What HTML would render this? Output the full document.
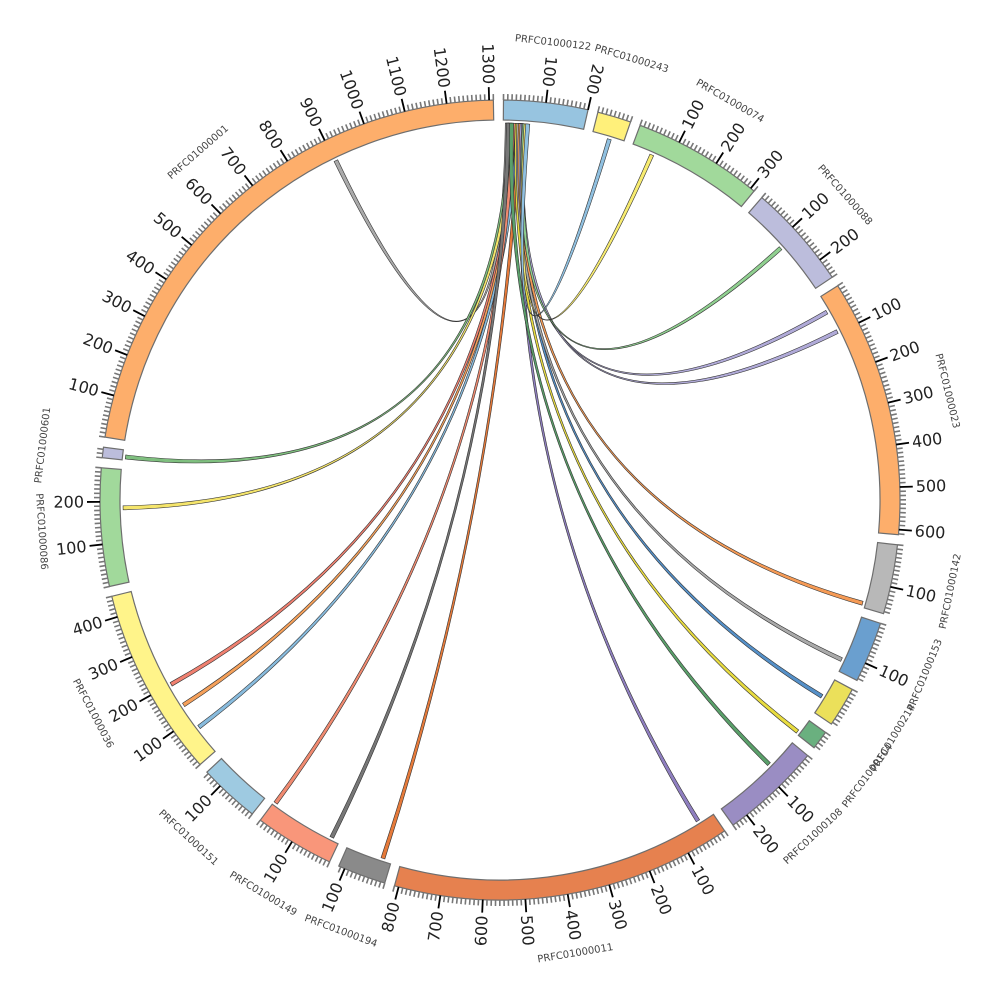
<!DOCTYPE html>
<html><head><meta charset="utf-8">
<style>
html,body{margin:0;padding:0;background:#fff;}
svg{display:block;font-family:"DejaVu Sans","Liberation Sans",sans-serif;}
</style></head>
<body>
<svg id="chart" width="1000" height="1000" viewBox="0 0 1000 1000" xmlns="http://www.w3.org/2000/svg">
<g id="links"></g>
<g id="segs"></g>
</svg>
<script>
const segNames=["PRFC01000122","PRFC01000243","PRFC01000074","PRFC01000088","PRFC01000023","PRFC01000142","PRFC01000153","PRFC01000214","PRFC01000104","PRFC01000108","PRFC01000011","PRFC01000194","PRFC01000149","PRFC01000151","PRFC01000036","PRFC01000086","PRFC01000601","PRFC01000001"];
const segLens=[200,80,310,250,612,165,145,95,45,240,810,115,190,145,450,280,25,1310];
const segColors=["#97c4e0","#fff07a","#a1d99b","#bcbddc","#fdae6b","#b8b8b8","#6a9fcf","#ebe05a","#6ab07f","#9a8dc3","#e6814f","#8a8a8a","#f9967a","#9ecae1","#fff48a","#a1d99b","#bcbddc","#fdae6b"];
const linkSrcPos=[5,12,18,24,28,32,20,8,36,44,16,30,40,34,38,42,46,48,52,56];
const linkTgtSeg=[17,16,15,14,14,14,12,12,11,10,9,8,7,6,5,4,4,3,2,1];
const linkTgtPos=[898,3,180,194,134,67,180,16,17,36,73,34,46,111,150,36,91,113,48,39];
const linkColors=["#aaaaaa","#7fbf7f","#f5e56b","#f08070","#f5a05a","#88bbdd","#f08a70","#777777","#e67a3a","#8f7fc0","#5aa06a","#e8dc40","#5590c8","#aaaaaa","#f59a55","#b0aad8","#b0aad8","#90d090","#f8ec70","#90c0e0"];

const NS="http://www.w3.org/2000/svg";
const CX=500,CY=500,R_IN=380,R_OUT=400,R_LINK=377,GAP=1.45,START=0.5;
const total=segLens.reduce((a,b)=>a+b,0);
const K=(360-GAP*segLens.length)/total;
const segStart=[];let acc=START;
segLens.forEach((l,i)=>{segStart.push(acc);acc+=l*K+GAP;});
function ang(seg,pos){return segStart[seg]+pos*K;}
function pt(r,a){const t=a*Math.PI/180;return [CX+r*Math.sin(t),CY-r*Math.cos(t)];}
function f(p){return p[0].toFixed(2)+","+p[1].toFixed(2);}

const gS=document.getElementById("segs"),gL=document.getElementById("links");

segLens.forEach((len,i)=>{
  const a0=ang(i,0),a1=ang(i,len);
  const g=document.createElementNS(NS,"g");
  
  
  const p=document.createElementNS(NS,"path");
  p.setAttribute("d","M"+f(pt(R_OUT,a0))+" A"+R_OUT+","+R_OUT+" 0 0 1 "+f(pt(R_OUT,a1))+" L"+f(pt(R_IN,a1))+" A"+R_IN+","+R_IN+" 0 0 0 "+f(pt(R_IN,a0))+"Z");
  p.setAttribute("fill",segColors[i]);p.setAttribute("stroke","#6e6e6e");p.setAttribute("stroke-width","1.2");
  
  
  g.appendChild(p);
  for(let v=0;v<=len;v+=10){
    const a=ang(i,v),major=(v%100===0&&v>0);
    const l=document.createElementNS(NS,"line");
    const q0=pt(R_OUT,a),q1=pt(R_OUT+(major?13:6),a);
    l.setAttribute("x1",q0[0]);l.setAttribute("y1",q0[1]);l.setAttribute("x2",q1[0]);l.setAttribute("y2",q1[1]);
    l.setAttribute("stroke",major?"#000":"#777");l.setAttribute("stroke-width",major?"1.8":"1.6");
    
    
    g.appendChild(l);
    if(major){
      const q=pt(R_OUT+16,a);
      const t=document.createElementNS(NS,"text");
      let rot,anchor;
      if(a>=180||a<14){rot=a+90;anchor="end";}else{rot=a-90;anchor="start";}
      t.setAttribute("x",q[0]);t.setAttribute("y",q[1]);
      t.setAttribute("transform","rotate("+rot.toFixed(2)+" "+q[0].toFixed(2)+" "+q[1].toFixed(2)+")");
      t.setAttribute("text-anchor",anchor);t.setAttribute("dominant-baseline","central");
      t.setAttribute("font-size","16");t.setAttribute("fill","#222");
      t.textContent=v;
      
      
      g.appendChild(t);
    }
  }
  const mid=(a0+a1)/2,q=pt(460,mid);
  const t=document.createElementNS(NS,"text");
  const rot=(mid>90&&mid<270)?mid-180:mid;
  t.setAttribute("x",q[0]);t.setAttribute("y",q[1]);
  t.setAttribute("transform","rotate("+rot.toFixed(2)+" "+q[0].toFixed(2)+" "+q[1].toFixed(2)+")");
  t.setAttribute("text-anchor","middle");t.setAttribute("dominant-baseline","central");
  t.setAttribute("font-size","10");t.setAttribute("fill","#444");
  t.textContent=segNames[i];
  
  
  g.appendChild(t);
  gS.appendChild(g);
});

const W=10;
linkSrcPos.forEach((sp,i)=>{
  const s0=ang(0,sp),s1=ang(0,sp+W);
  const tg=linkTgtSeg[i],tp=linkTgtPos[i];
  const t0=ang(tg,tp),t1=ang(tg,tp+W);
  const d="M"+f(pt(R_LINK,s0))+" A"+R_LINK+","+R_LINK+" 0 0 1 "+f(pt(R_LINK,s1))+
    " Q"+CX+","+CY+" "+f(pt(R_LINK,t0))+" A"+R_LINK+","+R_LINK+" 0 0 1 "+f(pt(R_LINK,t1))+
    " Q"+CX+","+CY+" "+f(pt(R_LINK,s0))+"Z";
  const p=document.createElementNS(NS,"path");
  p.setAttribute("d",d);p.setAttribute("fill",linkColors[i]);
  p.setAttribute("stroke","#333");p.setAttribute("stroke-width","0.6");
  
  
  gL.appendChild(p);
});
</script>
</body></html>
